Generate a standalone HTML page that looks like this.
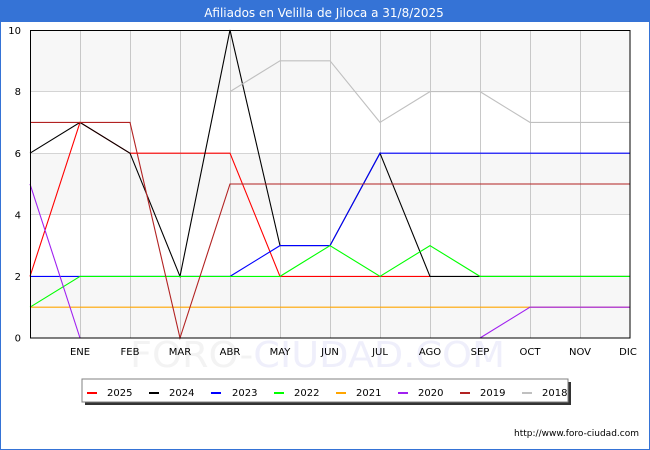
<!DOCTYPE html>
<html><head><meta charset="utf-8"><style>
html,body{margin:0;padding:0;background:#fff;}
svg{display:block;font-family:"DejaVu Sans","Liberation Sans",sans-serif;}
</style></head><body>
<svg width="650" height="450" viewBox="0 0 650 450" xmlns="http://www.w3.org/2000/svg">
<rect x="0" y="0" width="650" height="450" fill="#fff"/>
<rect x="0.5" y="0.5" width="649" height="449" fill="none" stroke="#3573d6" stroke-width="1"/>
<rect x="0" y="0" width="650" height="22" fill="#3573d6"/>
<text x="324" y="17" font-size="12" fill="#fff" text-anchor="middle">Afiliados en Velilla de Jiloca a 31/8/2025</text>

<!-- watermark -->
<text x="130" y="367" font-size="36" textLength="375" lengthAdjust="spacingAndGlyphs"><tspan fill="#f3f3f3">FORO-</tspan><tspan fill="#efeffb">CIUDAD.COM</tspan></text>

<!-- bands -->
<g shape-rendering="crispEdges">
<rect x="30" y="30" width="600" height="61.6" fill="#f7f7f7"/>
<rect x="30" y="153.2" width="600" height="61.6" fill="#f7f7f7"/>
<rect x="30" y="276.4" width="600" height="61.6" fill="#f7f7f7"/>
</g>
<g stroke="#d4d4d4" stroke-width="1" shape-rendering="crispEdges">
<line x1="30" y1="91.5" x2="630" y2="91.5"/>
<line x1="30" y1="153.5" x2="630" y2="153.5"/>
<line x1="30" y1="214.5" x2="630" y2="214.5"/>
<line x1="30" y1="276.5" x2="630" y2="276.5"/>
</g>
<g stroke="#c8c8c8" stroke-width="1" shape-rendering="crispEdges">
<line x1="80.5" y1="30" x2="80.5" y2="338"/>
<line x1="130.5" y1="30" x2="130.5" y2="338"/>
<line x1="180.5" y1="30" x2="180.5" y2="338"/>
<line x1="230.5" y1="30" x2="230.5" y2="338"/>
<line x1="280.5" y1="30" x2="280.5" y2="338"/>
<line x1="330.5" y1="30" x2="330.5" y2="338"/>
<line x1="380.5" y1="30" x2="380.5" y2="338"/>
<line x1="430.5" y1="30" x2="430.5" y2="338"/>
<line x1="480.5" y1="30" x2="480.5" y2="338"/>
<line x1="530.5" y1="30" x2="530.5" y2="338"/>
<line x1="580.5" y1="30" x2="580.5" y2="338"/>
</g>

<!-- series: y = 338 - 30.8*v ; x = 30 + 50*i -->
<g fill="none" stroke-width="1.1" stroke-linejoin="miter">
<!-- 2025 -->
<polyline stroke="#ff0000" points="30,276.4 80,122.4 130,153.2 180,153.2 230,153.2 280,276.4 330,276.4 380,276.4 430,276.4"/>
<!-- 2024 -->
<polyline stroke="#000000" points="30,153.2 80,122.4 130,153.2 180,276.4 230,30 280,245.6 330,245.6 380,153.2 430,276.4 480,276.4 530,276.4 580,276.4 630,276.4"/>
<!-- 2023 -->
<polyline stroke="#0000ff" points="30,276.4 80,276.4 130,276.4 180,276.4 230,276.4 280,245.6 330,245.6 380,153.2 430,153.2 480,153.2 530,153.2 580,153.2 630,153.2"/>
<!-- 2022 -->
<polyline stroke="#00ff00" points="30,307.2 80,276.4 130,276.4 180,276.4 230,276.4 280,276.4 330,245.6 380,276.4 430,245.6 480,276.4 530,276.4 580,276.4 630,276.4"/>
<!-- 2021 -->
<polyline stroke="#ffa500" points="30,307.2 630,307.2"/>
<!-- 2020 -->
<polyline stroke="#a020f0" points="30,184 80,338"/>
<polyline stroke="#a020f0" points="480,338 530,307.2 580,307.2 630,307.2"/>
<!-- 2019 -->
<polyline stroke="#b22222" points="30,122.4 80,122.4 130,122.4 180,338 230,184 280,184 330,184 380,184 430,184 480,184 530,184 580,184 630,184"/>
<!-- 2018 -->
<polyline stroke="#c0c0c0" points="230,91.6 280,60.8 330,60.8 380,122.4 430,91.6 480,91.6 530,122.4 580,122.4 630,122.4"/>
</g>

<!-- frame -->
<rect x="30.5" y="30.5" width="599.5" height="307.5" fill="none" stroke="#000" stroke-width="1" shape-rendering="crispEdges"/>

<!-- y labels -->
<g font-size="10" fill="#000" text-anchor="end">
<text x="21" y="341.5">0</text>
<text x="21" y="280">2</text>
<text x="21" y="218.5">4</text>
<text x="21" y="157">6</text>
<text x="21" y="95">8</text>
<text x="21" y="34">10</text>
</g>
<!-- x labels -->
<g font-size="10" fill="#000" text-anchor="middle">
<text x="80" y="355">ENE</text>
<text x="130" y="355">FEB</text>
<text x="180" y="355">MAR</text>
<text x="230" y="355">ABR</text>
<text x="280" y="355">MAY</text>
<text x="330" y="355">JUN</text>
<text x="380" y="355">JUL</text>
<text x="430" y="355">AGO</text>
<text x="480" y="355">SEP</text>
<text x="530" y="355">OCT</text>
<text x="580" y="355">NOV</text>
<text x="628" y="355">DIC</text>
</g>

<!-- legend -->
<rect x="85" y="382" width="486" height="23" fill="#333" shape-rendering="crispEdges"/>
<rect x="82" y="379" width="486" height="23" fill="#fff" stroke="#808080" stroke-width="1" shape-rendering="crispEdges"/>
<g shape-rendering="crispEdges">
<rect x="87" y="392" width="10" height="2" fill="#ff0000"/>
<rect x="149" y="392" width="10" height="2" fill="#000000"/>
<rect x="211" y="392" width="10" height="2" fill="#0000ff"/>
<rect x="274" y="392" width="10" height="2" fill="#00ff00"/>
<rect x="336" y="392" width="10" height="2" fill="#ffa500"/>
<rect x="398" y="392" width="10" height="2" fill="#a020f0"/>
<rect x="460" y="392" width="10" height="2" fill="#b22222"/>
<rect x="522" y="392" width="10" height="2" fill="#c0c0c0"/>
</g>
<g font-size="10" fill="#000">
<text x="107" y="396">2025</text>
<text x="169" y="396">2024</text>
<text x="232" y="396">2023</text>
<text x="294" y="396">2022</text>
<text x="356" y="396">2021</text>
<text x="418" y="396">2020</text>
<text x="480" y="396">2019</text>
<text x="542" y="396">2018</text>
</g>

<text x="639" y="436" font-size="9" fill="#000" text-anchor="end">http://www.foro-ciudad.com</text>
</svg>
</body></html>
